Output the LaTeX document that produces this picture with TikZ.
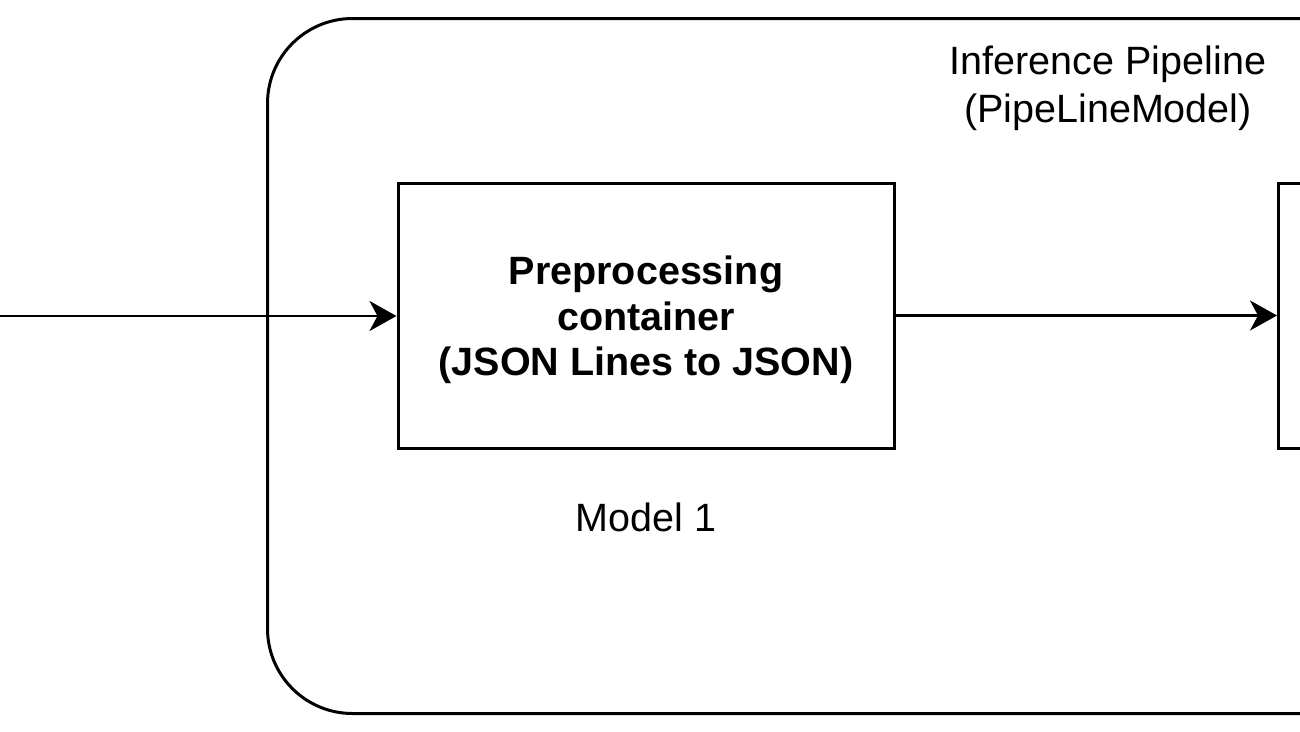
\documentclass[tikz,border=0pt]{standalone}
\usepackage{fontspec}
\setmainfont{Liberation Sans}
\usetikzlibrary{arrows.meta}
\begin{document}
\begin{tikzpicture}[x=1pt,y=-1pt,
  box/.style={draw, line width=3pt, inner sep=0pt},
  lbl/.style={font=\fontsize{39.5}{48}\selectfont, align=center, inner sep=0pt},
  blbl/.style={font=\fontsize{39.5}{45.5}\selectfont\bfseries, align=center, inner sep=0pt},
  conn/.style={line width=2.5pt, -{Stealth[length=27pt,width=30pt,inset=8pt]}}]
\useasboundingbox (0,0) rectangle (1300,731);
\clip (0,0) rectangle (1300,731);
\node[box, rounded corners=85pt, minimum width=1400pt, minimum height=695pt, anchor=north west] (pipe) at (266,17) {};
\node[lbl] (title) at (1108,88) {Inference Pipeline\\(PipeLineModel)};
\node[box, minimum width=496pt, minimum height=265pt] (prep) at (646,315.5) {};
\node[blbl] (preplabel) at (646,320) {Preprocessing\\container\\(JSON Lines to JSON)};
\node[lbl] (m1) at (646,517) {Model 1};
\node[box, minimum width=300pt, minimum height=265pt, anchor=north west] (next) at (1277,182) {};
\coordinate (in) at (-10,316);
\draw[conn] (in) -- (in -| prep.west);
\draw[conn] (prep.east) -- (prep.east -| next.west);
\end{tikzpicture}
\end{document}
